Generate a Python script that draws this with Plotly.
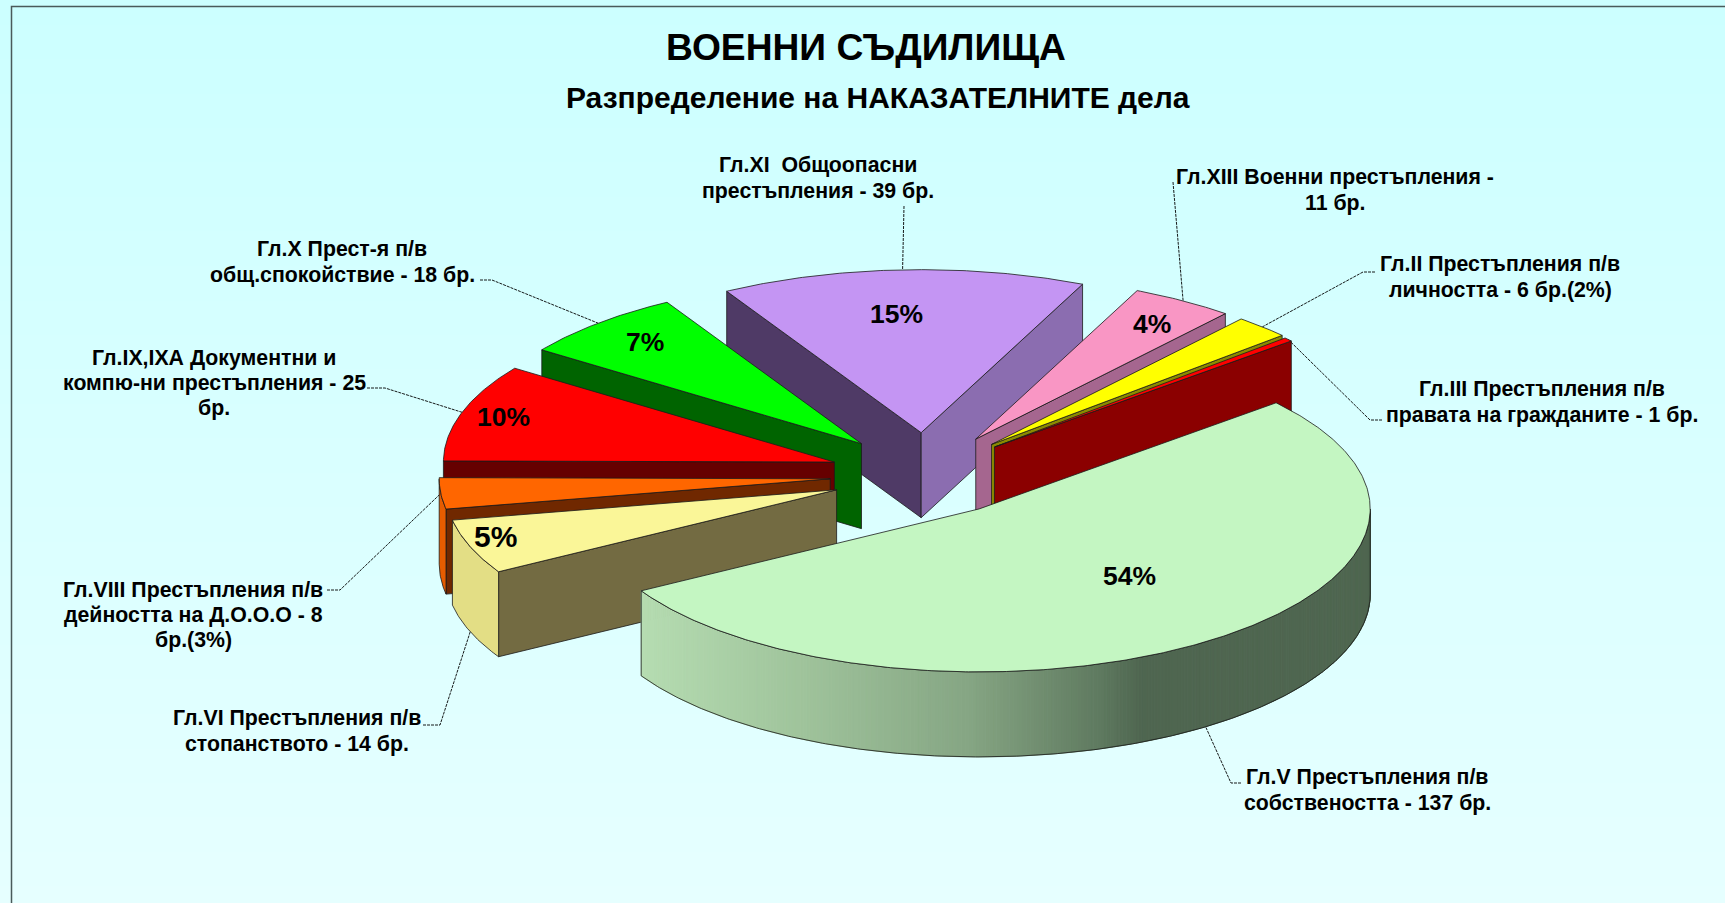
import numpy as np
import plotly.graph_objects as go

# ---------- data ----------
chapters = ["Гл.V", "Гл.VI", "Гл.VIII", "Гл.IX,IXА", "Гл.X", "Гл.XI", "Гл.XIII", "Гл.II", "Гл.III"]
cases = [137, 14, 8, 25, 18, 39, 11, 6, 1]
percent_labels = ["54%", "5%", "", "10%", "7%", "15%", "4%", "", ""]
slice_labels = [
    ["Гл.V Престъпления п/в", "собствеността - 137 бр."],
    ["Гл.VI Престъпления п/в", "стопанството - 14 бр."],
    ["Гл.VIII Престъпления п/в", "дейността на Д.О.О.О - 8", "бр.(3%)"],
    ["Гл.IX,IXА Документни и", "компю-ни престъпления - 25", "бр."],
    ["Гл.X Прест-я п/в", "общ.спокойствие - 18 бр."],
    ["Гл.XI  Общоопасни", "престъпления - 39 бр."],
    ["Гл.XIII Военни престъпления -", "11 бр."],
    ["Гл.II Престъпления п/в", "личността - 6 бр.(2%)"],
    ["Гл.III Престъпления п/в", "правата на гражданите - 1 бр."],
]
title_text = "ВОЕННИ СЪДИЛИЩА"
subtitle_text = "Разпределение на НАКАЗАТЕЛНИТЕ дела"

# ---------- styles ----------
top_colors = ["#C4F6C2", "#FAF698", "#FF6600", "#FF0000", "#00FF00", "#C495F3", "#F996C4", "#FFFF00", "#FF0000"]
start_wall = ["#000000", "#736B42", "#702800", "#660000", "#006400", "#4F3A66", "#000000", "#000000", "#000000"]
end_wall = ["#000000", "#000000", "#000000", "#000000", "#000000", "#8B6DB0", "#A5668F", "#8B8B00", "#8B0000"]
outer_wall = ["#8AAA88", "#E3DE85", "#E65C00", "#660000", "#006400", "#8B6DB0", "#A5668F", "#8B8B00", "#8B0000"]
EDGE = "#1A1A1A"
FONT = "Liberation Sans"

# ---------- pie geometry ----------
CX, CY = 926.0, 475.0
RX, RY = 391.0, 163.0
DEPTH = 85.0
ROTATION = 49.4
PULL_X = [0.235, 0.244, 0.246, 0.246, 0.245, 0.26, 0.24, 0.242, 0.233]
PULL_Y = [0.255, 0.26, 0.26, 0.26, 0.26, 0.26, 0.26, 0.26, 0.26]
LINE_GAP = 25.2

label_pos = [(1367, 790), (297, 731), (193, 615), (214, 383), (342, 262),
             (818, 178), (1335, 190), (1500, 277), (1542, 402)]
percent_pos = [(1129, 576), (495, 536), None, (503, 417), (645, 342), (896, 314), (1152, 324), None, None]
percent_size = [26.5, 30, 26.5, 26.5, 26.5, 26.5, 26.5, 26.5, 26.5]
# Elbow points of the leader lines (label end, bend)
leader_elbows = [
    [(1241, 783), (1231, 783)],
    [(423, 725), (440, 725)],
    [(327, 590), (340, 590)],
    [(367, 388), (385, 388)],
    [(480, 280), (492, 280)],
    [(904, 206), (904, 206)],
    [(1173, 182), (1173, 182)],
    [(1375, 272), (1363, 272)],
    [(1382, 420), (1370, 420)],
]
leader_on_wall = [True, True, False, False, False, False, False, False, False]

total = sum(cases)
fractions = np.array(cases) / total
cum = np.concatenate([[0], np.cumsum(fractions)])
a_start = ROTATION + 360 * cum[:-1]
a_end = ROTATION + 360 * cum[1:]


def to_math(clockwise_deg):
    return np.radians(90 - np.asarray(clockwise_deg, dtype=float))


def apex(i):
    m = to_math((a_start[i] + a_end[i]) / 2)
    return CX + PULL_X[i] * RX * np.cos(m), CY - PULL_Y[i] * RY * np.sin(m)


def rim(i, clockwise_deg):
    ax, ay = apex(i)
    m = to_math(clockwise_deg)
    return ax + RX * np.cos(m), ay - RY * np.sin(m)


def poly(xs, ys, fill, line=EDGE, width=0.8):
    return go.Scatter(x=list(xs), y=list(ys), mode="lines", fill="toself", fillcolor=fill,
                      line=dict(color=line, width=width), hoverinfo="skip", showlegend=False)


fig = go.Figure()

# Background gradient
bg_y = np.linspace(7, 903, 61)
bg_z = [[v, v] for v in np.linspace(0, 1, 61)]
fig.add_trace(go.Heatmap(x=[12, 1725], y=bg_y, z=bg_z, showscale=False, hoverinfo="skip",
                         colorscale=[[0, "#CCFFFF"], [1, "#E6FFFF"]], zsmooth="best"))

# Leader lines
for i in range(len(cases)):
    mid = (a_start[i] + a_end[i]) / 2
    ex, ey = rim(i, mid)
    if leader_on_wall[i]:
        ey += DEPTH
    pts = leader_elbows[i] + [(ex, ey)]
    fig.add_trace(go.Scatter(x=[p[0] for p in pts], y=[p[1] for p in pts], mode="lines",
                             line=dict(color="#000000", width=0.9, dash="3px,1px"),
                             hoverinfo="skip", showlegend=False))


def lerp_hex(stops, x):
    xs = [s[0] for s in stops]
    r = np.interp(x, xs, [int(s[1][1:3], 16) for s in stops])
    g = np.interp(x, xs, [int(s[1][3:5], 16) for s in stops])
    b = np.interp(x, xs, [int(s[1][5:7], 16) for s in stops])
    return "rgb(%d,%d,%d)" % (r, g, b)


gradient_stops = [(640, "#B6DDB2"), (800, "#A0C49C"), (968, "#86A684"), (1100, "#5F7A60"),
                  (1142, "#4F6650"), (1370, "#4F6650")]

# Slices from the back to the front
order = sorted(range(len(cases)), key=lambda k: apex(k)[1])
for i in order:
    ax, ay = apex(i)
    ts = to_math(a_start[i])
    te = to_math(a_end[i])
    # radial cut walls
    if np.cos(ts) < 0:
        x1, y1 = rim(i, a_start[i])
        fig.add_trace(poly([ax, x1, x1, ax, ax], [ay, y1, y1 + DEPTH, ay + DEPTH, ay], start_wall[i]))
    if np.cos(te) > 0:
        x2, y2 = rim(i, a_end[i])
        fig.add_trace(poly([ax, x2, x2, ax, ax], [ay, y2, y2 + DEPTH, ay + DEPTH, ay], end_wall[i]))
    # outer wall, only its front part
    angles = np.linspace(a_start[i], a_end[i], max(3, int(abs(a_end[i] - a_start[i]) * 2)))
    front = [a for a in angles if np.sin(to_math(a)) <= 0.0005]
    if len(front) > 1:
        rx_, ry_ = zip(*[rim(i, a) for a in front])
        if i == 0:
            for k in range(len(front) - 1):
                xa, xb = rx_[k], rx_[k + 1]
                c = lerp_hex(gradient_stops, (xa + xb) / 2)
                fig.add_trace(poly([xa, xb, xb, xa, xa],
                                   [ry_[k], ry_[k + 1], ry_[k + 1] + DEPTH, ry_[k] + DEPTH, ry_[k]],
                                   c, line=c, width=1))
            fig.add_trace(go.Scatter(x=list(rx_) + list(rx_[::-1]) + [rx_[0]],
                                     y=list(ry_) + [v + DEPTH for v in ry_[::-1]] + [ry_[0]],
                                     mode="lines", line=dict(color=EDGE, width=0.8),
                                     hoverinfo="skip", showlegend=False))
        else:
            fig.add_trace(poly(list(rx_) + list(rx_[::-1]) + [rx_[0]],
                               list(ry_) + [v + DEPTH for v in ry_[::-1]] + [ry_[0]], outer_wall[i]))
    # top face
    tx, ty = zip(*[rim(i, a) for a in angles])
    fig.add_trace(poly([ax] + list(tx) + [ax], [ay] + list(ty) + [ay], top_colors[i]))

annotations = [
    dict(x=866, y=47, text="<b>%s</b>" % title_text, font=dict(size=37.2, family=FONT, color="black")),
    dict(x=878, y=97, text="<b>%s</b>" % subtitle_text, font=dict(size=30, family=FONT, color="black")),
]
for lines, (x, y) in zip(slice_labels, label_pos):
    y0 = y - LINE_GAP * (len(lines) - 1) / 2
    for n, line in enumerate(lines):
        annotations.append(dict(x=x, y=y0 + n * LINE_GAP, text="<b>%s</b>" % line,
                                font=dict(size=21.3, family=FONT, color="black")))
for lab, pos, size in zip(percent_labels, percent_pos, percent_size):
    if pos:
        annotations.append(dict(x=pos[0], y=pos[1], text="<b>%s</b>" % lab,
                                font=dict(size=size, family=FONT, color="black")))
for a in annotations:
    a.update(xref="x", yref="y", showarrow=False, xanchor="center", yanchor="middle")

fig.update_layout(
    width=1725, height=903, margin=dict(l=0, r=0, t=0, b=0),
    paper_bgcolor="white", plot_bgcolor="white", showlegend=False,
    xaxis=dict(range=[0, 1725], visible=False, fixedrange=True),
    yaxis=dict(range=[903, 0], visible=False, fixedrange=True),
    annotations=annotations,
    shapes=[dict(type="rect", xref="x", yref="y", x0=11.5, y0=6.5, x1=1740, y1=920,
                 line=dict(color="#4A5A5A", width=1.5), fillcolor="rgba(0,0,0,0)", layer="above")],
)
fig.write_html("out.html", config={"displayModeBar": False},
               post_script="document.body.style.margin='0';document.body.style.overflow='hidden';")
